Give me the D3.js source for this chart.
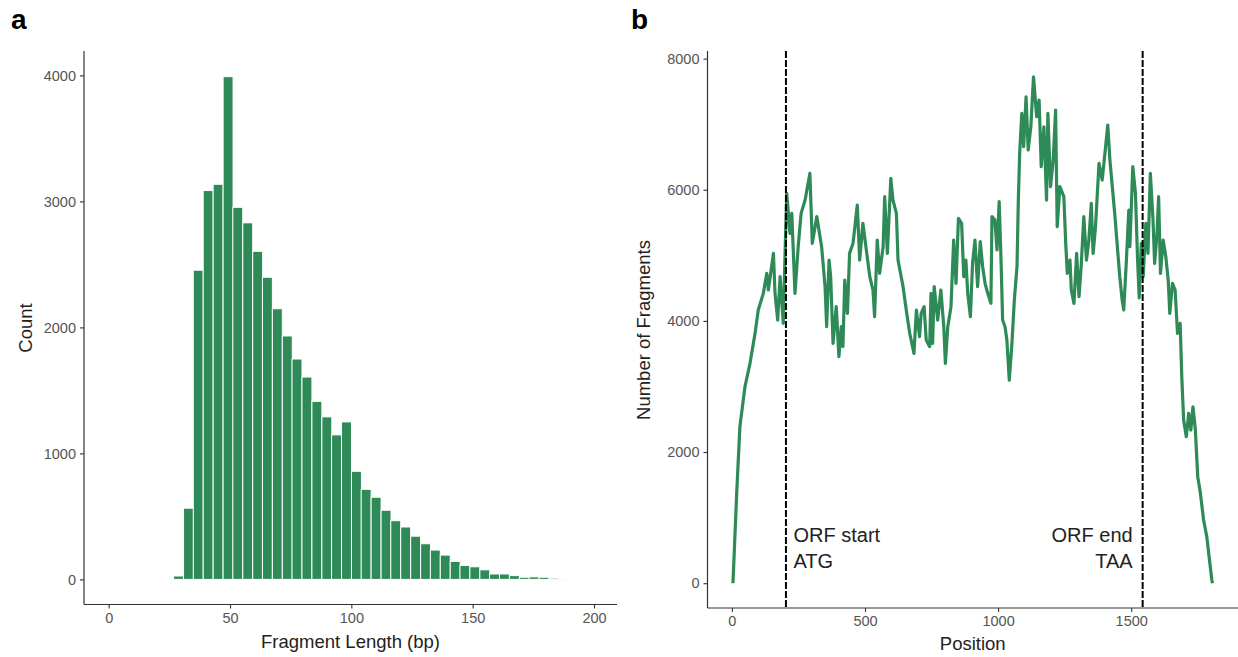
<!DOCTYPE html>
<html><head><meta charset="utf-8">
<script src="https://cdn.jsdelivr.net/npm/d3@7"></script>
<style>
body{margin:0;background:#fff}
svg{display:block}
text{font-family:"Liberation Sans",Arial,Helvetica,sans-serif}
</style>
</head><body>
<svg id="chart" width="1238" height="657"></svg>
<script>
// ---------- Panel a: fragment length histogram ----------
const binCenters = [28.8,32.9,36.9,41.0,45.1,49.2,53.2,57.3,61.4,65.4,69.5,73.6,77.6,81.7,85.8,89.9,93.9,98.0,102.1,106.1,
  110.2,114.3,118.3,122.4,126.5,130.6,134.6,138.7,142.8,146.8,150.9,155.0,159.0,163.1,167.2,171.3,175.3,179.4,183.5,187.5];
const counts = [27,565,2454,3086,3136,3990,2953,2830,2604,2398,2148,1932,1749,1606,1413,1290,1147,1250,858,715,
  652,549,466,416,343,283,233,193,143,110,100,76,43,43,30,17,20,17,10,7];
const xTicksA = [0,50,100,150,200];
const yTicksA = [0,1000,2000,3000,4000];

// ---------- Panel b: coverage profile ----------
const positions = [4,18,30,49,68,87,99,118,131,137,156,162,172,181,193,199,206,218,225,237,249,260,275,293,302,319,337,350,356,365,
  371,380,392,402,411,417,424,434,442,455,471,480,492,505,518,530,536,546,555,568,574,584,597,605,618,624,643,655,668,684,
  693,705,711,722,730,743,748,754,760,773,785,796,802,811,823,833,842,851,863,871,879,886,896,904,913,923,933,942,951,961,
  973,977,988,996,1004,1011,1017,1026,1033,1042,1052,1061,1071,1076,1081,1089,1096,1105,1113,1123,1133,1145,1154,1162,1172,1182,1187,1197,1207,1216,
  1222,1232,1247,1254,1260,1270,1275,1285,1295,1304,1312,1322,1332,1341,1350,1357,1366,1379,1391,1400,1412,1420,1428,1438,1447,1457,1466,1472,1482,1491,
  1495,1506,1516,1524,1530,1538,1545,1555,1563,1572,1582,1588,1597,1603,1610,1620,1630,1639,1645,1655,1665,1674,1684,1690,1697,1707,1716,1724,1732,1741,
  1750,1760,1772,1784,1794,1803,1805];
const fragments = [0,1370,2386,2996,3353,3810,4166,4420,4725,4471,5030,4420,4013,4674,3962,4928,5945,5335,5640,4420,5131,5640,5843,6250,5183,5590,5131,4522,3912,4928,
  4674,3658,4217,3454,3912,3607,4623,4115,5030,5183,5767,4928,5488,5081,4674,4471,4064,5233,4725,5131,5894,5030,6174,5843,5640,4928,4522,4166,3810,3505,
  4166,3759,4115,4217,3708,3607,4420,3658,4522,4013,4471,3912,3353,3912,4217,5233,4573,5564,5488,4674,4928,4420,4064,4877,5233,4522,5208,4827,4573,4420,
  4268,5590,5538,5081,5818,4928,4013,3912,3708,3098,3658,4319,4827,5843,6555,7165,6656,7418,6606,6961,7723,7113,7368,6352,6961,5843,7165,6047,6453,7216,
  5437,6047,5894,5183,4725,4928,4471,4268,5030,4369,4827,5590,4928,5233,5792,5030,5437,6403,6148,6504,6987,6453,6098,5640,5183,4674,4319,4166,4928,5691,
  5131,6352,5945,4928,4350,5183,4674,5488,5030,6250,5538,4877,5335,5894,4725,5233,4979,4623,4115,4573,4471,3810,3962,3149,2488,2234,2590,2336,2691,2336,
  1624,1370,964,710,354,49,0];
const xTicksB = [0,500,1000,1500];
const yTicksB = [0,2000,4000,6000,8000];
const orfMarks = [203, 1543];
const orfLabels = [["ORF start","ATG"],["ORF end","TAA"]];

const GREEN = "#2e8b57";
const svg = d3.select("#chart");
const fmt = d3.format("d");

function styleAxis(g){
  g.select(".domain").remove();
  g.selectAll(".tick line").attr("stroke","#333").attr("stroke-width",1.1);
  g.selectAll(".tick text").attr("fill","#555").attr("font-size","14.5px")
    .attr("font-family",'"Liberation Sans",Arial,sans-serif');
}

// ===== Panel a =====
{
  const L=84, R=617, T=51, B=604.5;
  const x = d3.scaleLinear().domain([0,200]).range([108.7,594]);
  const y = d3.scaleLinear().domain([0,4000]).range([579.4,75.4]);
  const w = binCenters[1]-binCenters[0];
  svg.append("g").selectAll("rect").data(counts).join("rect")
    .attr("x",(d,i)=>x(binCenters[i]-w/2))
    .attr("width",(d,i)=>x(binCenters[i]+w/2)-x(binCenters[i]-w/2))
    .attr("y",d=>y(d))
    .attr("height",d=>y(0)-y(d))
    .attr("fill",GREEN).attr("stroke","#fff").attr("stroke-width",1);
  svg.append("g").attr("transform",`translate(0,${B})`)
    .call(d3.axisBottom(x).tickValues(xTicksA).tickFormat(fmt).tickSize(4).tickPadding(4)).call(styleAxis);
  svg.append("g").attr("transform",`translate(${L},0)`)
    .call(d3.axisLeft(y).tickValues(yTicksA).tickFormat(fmt).tickSize(4).tickPadding(4)).call(styleAxis);
  svg.append("line").attr("x1",L).attr("x2",L).attr("y1",T).attr("y2",B).attr("stroke","#333").attr("stroke-width",1.2);
  svg.append("line").attr("x1",L).attr("x2",R).attr("y1",B).attr("y2",B).attr("stroke","#333").attr("stroke-width",1.2);
  svg.append("text").attr("x",(L+R)/2).attr("y",648).attr("text-anchor","middle")
    .attr("font-size","18.5px").attr("fill","#222").text("Fragment Length (bp)");
  svg.append("text").attr("transform","translate(32,328) rotate(-90)").attr("text-anchor","middle")
    .attr("font-size","18.5px").attr("fill","#222").text("Count");
  svg.append("text").attr("x",11).attr("y",29).attr("font-size","28px").attr("font-weight","bold").text("a");
}

// ===== Panel b =====
{
  const L=707.5, R=1238, T=51, B=608;
  const x = d3.scaleLinear().domain([0,1500]).range([731.9,1131.2]);
  const y = d3.scaleLinear().domain([0,8000]).range([583.2,58.6]);
  const line = d3.line().x(d=>x(d[0])).y(d=>y(d[1]));
  svg.append("path").datum(positions.map((p,i)=>[p,fragments[i]]))
    .attr("d",line).attr("fill","none").attr("stroke",GREEN).attr("stroke-width",3.2)
    .attr("stroke-linejoin","round");
  svg.append("g").selectAll("line").data(orfMarks).join("line")
    .attr("x1",d=>x(d)).attr("x2",d=>x(d)).attr("y1",T).attr("y2",B)
    .attr("stroke","#000").attr("stroke-width",2).attr("stroke-dasharray","7,2");
  orfMarks.forEach((m,i)=>{
    const left = i===0;
    const t = svg.append("text").attr("font-size","20px").attr("fill","#222")
      .attr("text-anchor", left ? "start" : "end");
    const tx = left ? x(m)+7.5 : x(m)-10;
    t.append("tspan").attr("x",tx).attr("y",542).text(orfLabels[i][0]);
    t.append("tspan").attr("x",tx).attr("y",568).text(orfLabels[i][1]);
  });
  svg.append("g").attr("transform",`translate(0,${B})`)
    .call(d3.axisBottom(x).tickValues(xTicksB).tickFormat(fmt).tickSize(4).tickPadding(4)).call(styleAxis);
  svg.append("g").attr("transform",`translate(${L},0)`)
    .call(d3.axisLeft(y).tickValues(yTicksB).tickFormat(fmt).tickSize(4).tickPadding(4)).call(styleAxis);
  svg.append("line").attr("x1",L).attr("x2",L).attr("y1",T).attr("y2",B).attr("stroke","#333").attr("stroke-width",1.2);
  svg.append("line").attr("x1",L).attr("x2",R).attr("y1",B).attr("y2",B).attr("stroke","#333").attr("stroke-width",1.2);
  svg.append("text").attr("x",(L+R)/2).attr("y",650).attr("text-anchor","middle")
    .attr("font-size","18.5px").attr("fill","#222").text("Position");
  svg.append("text").attr("transform","translate(650,330) rotate(-90)").attr("text-anchor","middle")
    .attr("font-size","18.5px").attr("fill","#222").text("Number of Fragments");
  svg.append("text").attr("x",631).attr("y",29).attr("font-size","28px").attr("font-weight","bold").text("b");
}
</script>
</body></html>
